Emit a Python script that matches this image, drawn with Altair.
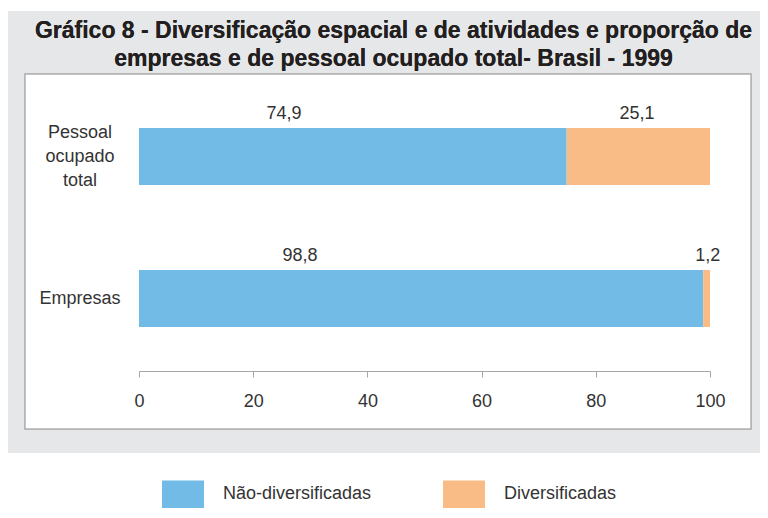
import altair as alt
import pandas as pd

# ---- data ----
categories = ["Pessoal ocupado total", "Empresas"]
series = ["Não-diversificadas", "Diversificadas"]
nao_diversificadas = [74.9, 98.8]
diversificadas = [25.1, 1.2]
# label anchors (in % units)
label_anchor_nao = [25.4, 28.2]
label_anchor_div = [87.2, 99.6]
x_ticks = [0, 20, 40, 60, 80, 100]
title_lines = [
    "Gráfico 8 - Diversificação espacial e de atividades e proporção de",
    "empresas e de pessoal ocupado total- Brasil - 1999",
]
colors = ["#72bbe6", "#f9bc87"]

rows = []
for i, c in enumerate(categories):
    for j, (s, vals, anch) in enumerate(
        [(series[0], nao_diversificadas, label_anchor_nao),
         (series[1], diversificadas, label_anchor_div)]):
        v = vals[i]
        rows.append({"categoria": c, "serie": s, "valor": v, "ordem": j,
                     "rotulo": f"{v:.1f}".replace(".", ","), "pos": anch[i]})
df = pd.DataFrame(rows)
cat_df = pd.DataFrame({"categoria": categories})

W, H = 752, 500
FONT = "Liberation Sans"
FS = 18
LH = 24

xscale = alt.Scale(domain=[0, 100], range=[131, 702], nice=False, zero=True)
yscale = alt.Scale(domain=categories, range=[77.5, 361.5],
                   paddingInner=0.5986, paddingOuter=0.2993)

bg = alt.Chart(cat_df).mark_rect(color="#e6e7e8").encode(
    x=alt.value(0), x2=alt.value(W), y=alt.value(3), y2=alt.value(445))

panel = alt.Chart(cat_df).mark_rect(fill="white", stroke="#b3b3b3", strokeWidth=1.5).encode(
    x=alt.value(17), x2=alt.value(743), y=alt.value(66), y2=alt.value(421))

title = alt.Chart(cat_df).mark_text(
    font=FONT, fontWeight="bold", fontSize=23, color="#231f20",
    align="center", baseline="alphabetic", lineHeight=28).encode(
    x=alt.value(385.5), y=alt.value(30), text=alt.value(title_lines))

bars = alt.Chart(df).mark_bar(size=57).encode(
    x=alt.X("valor:Q", stack="zero", scale=xscale,
            axis=alt.Axis(values=x_ticks, title=None, grid=False, offset=-(H - 363),
                          zindex=1, domainColor="#a6a6a6", tickColor="#a6a6a6",
                          tickSize=6, labelFont=FONT, labelFontSize=FS,
                          labelColor="#333333", labelPadding=15, labelFlush=False)),
    y=alt.Y("categoria:N", scale=yscale, axis=None),
    color=alt.Color("serie:N", scale=alt.Scale(domain=series, range=colors),
                    legend=alt.Legend(title=None)),
    order=alt.Order("ordem:Q"),
)

value_labels = alt.Chart(df).mark_text(
    font=FONT, fontSize=FS, color="#333333", baseline="middle", align="center",
    yOffset=-43).encode(
    x=alt.X("pos:Q", scale=xscale),
    y=alt.Y("categoria:N", scale=yscale),
    text="rotulo:N")

cat_layers = []
for c in categories:
    n = len(c.split(" "))
    cat_layers.append(
        alt.Chart(cat_df).transform_filter(alt.datum.categoria == c).mark_text(
            font=FONT, fontSize=FS, color="#333333", baseline="middle",
            align="center", lineBreak=" ", lineHeight=LH, dy=-(n - 1) * LH / 2,
        ).encode(x=alt.value(72), y=alt.Y("categoria:N", scale=yscale),
                 text="categoria:N"))

chart = alt.layer(bg, panel, title, bars, value_labels, *cat_layers).properties(
    width=W, height=H, autosize=alt.AutoSizeParams(type="none"), padding=0,
    background="white",
).configure_view(stroke=None).configure_legend(
    orient="none", legendX=154, legendY=H - 35, direction="horizontal",
    symbolType="M-1,-0.667H1V0.667H-1Z", symbolSize=1764, symbolStrokeWidth=0,
    symbolOpacity=1, labelFont=FONT, labelFontSize=FS, labelColor="#333333",
    labelOffset=19, columnPadding=71, padding=0,
)

chart.save("out.html", embed_options={"renderer": "svg", "actions": False})
